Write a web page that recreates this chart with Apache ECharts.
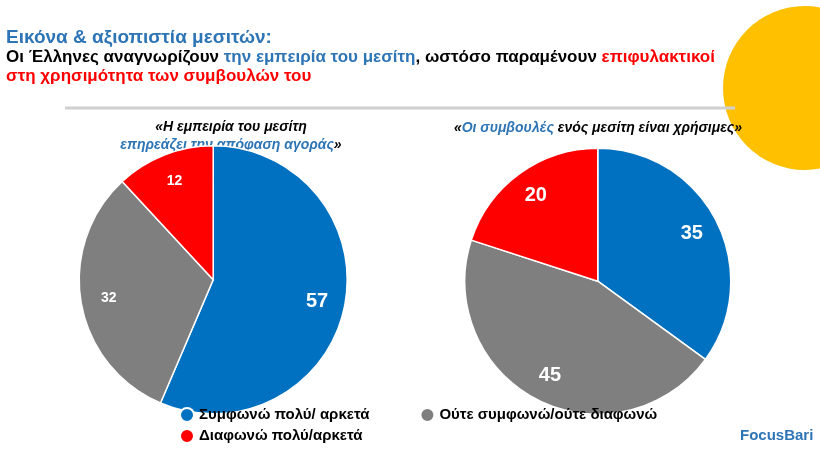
<!DOCTYPE html>
<html>
<head>
<meta charset="utf-8">
<script src="https://cdn.jsdelivr.net/npm/echarts@6/dist/echarts.min.js"></script>
<style>html,body{margin:0;padding:0;background:#fff}#main{width:820px;height:461px}</style>
</head>
<body>
<div id="main"></div>
<script>
var categories = ['Συμφωνώ πολύ/ αρκετά', 'Ούτε συμφωνώ/ούτε διαφωνώ', 'Διαφωνώ πολύ/αρκετά'];
var colors = ['#0070C0', '#7F7F7F', '#FF0000'];
var leftValues = [57, 32, 12];
var rightValues = [35, 45, 20];

function pieData(vals, sizes){
    var out = [];
    for (var i = 0; i < vals.length; i++) {
        out.push({value: vals[i], name: categories[i], itemStyle: {color: colors[i]},
            label: {fontSize: sizes[i]}});
    }
    return out;
}
function labelData(vals, sizes){
    var out = pieData(vals, sizes);
    for (var i = 0; i < out.length; i++) out[i].itemStyle = {color: 'rgba(0,0,0,0)'};
    return out;
}
var font = 'Liberation Sans';
var chart = echarts.init(document.getElementById('main'));
var lbl = {position: 'inside', formatter: '{c}', color: '#fff', fontWeight: 'bold'};
var option = {
    animation: false,
    textStyle: {fontFamily: font},
    graphic: [
        {type: 'circle', shape: {cx: 805, cy: 88, r: 82}, style: {fill: '#FFC000'}, z: 0},
        {type: 'line', shape: {x1: 65, y1: 108, x2: 735, y2: 108}, style: {stroke: '#D0D0D0', lineWidth: 3}},
        {type: 'text', left: 6, top: 28, style: {text: 'Εικόνα & αξιοπιστία μεσιτών:', fill: '#2E75B6', font: 'bold 19px ' + font}},
        {type: 'text', left: 6, top: 49, style: {
            text: '{k|Οι Έλληνες αναγνωρίζουν }{b|την εμπειρία του μεσίτη}{k|, ωστόσο παραμένουν }{r|επιφυλακτικοί}\n{r|στη χρησιμότητα των συμβουλών του}',
            rich: {
                k: {fill: '#000', font: 'bold 17px ' + font, lineHeight: 19},
                b: {fill: '#2E75B6', font: 'bold 17px ' + font, lineHeight: 19},
                r: {fill: '#FF0000', font: 'bold 17px ' + font, lineHeight: 19}
            }}},
        {type: 'text', x: 231, y: 118, style: {
            text: '{k|«Η εμπειρία του μεσίτη}\n{b|επηρεάζει την απόφαση αγοράς}{k|»}',
            align: 'center',
            rich: {
                k: {fill: '#000', font: 'italic bold 14px ' + font, lineHeight: 18},
                b: {fill: '#2E75B6', font: 'italic bold 14px ' + font, lineHeight: 18}
            }}},
        {type: 'text', x: 598, y: 121, style: {
            text: '{k|«}{b|Οι συμβουλές}{k| ενός μεσίτη είναι χρήσιμες»}',
            align: 'center',
            rich: {
                k: {fill: '#000', font: 'italic bold 14px ' + font},
                b: {fill: '#2E75B6', font: 'italic bold 14px ' + font}
            }}},
        {type: 'text', left: 740, top: 428, style: {text: 'FocusBari', fill: '#2E75B6', font: 'bold 15px ' + font}}
    ],
    legend: [
        {data: [categories[0], categories[1]], left: 174, top: 402, icon: 'circle', itemWidth: 14, itemHeight: 14, itemGap: 50,
            textStyle: {fontSize: 15, color: '#000', fontWeight: 'bold'}},
        {data: [categories[2]], left: 174, top: 423, icon: 'circle', itemWidth: 14, itemHeight: 14,
            textStyle: {fontSize: 15, color: '#000', fontWeight: 'bold'}}
    ],
    series: [
        {type: 'pie', center: ['26%', '60.7%'], radius: 134, startAngle: 90,
            itemStyle: {borderColor: '#fff', borderWidth: 1.5}, label: {show: false},
            data: pieData(leftValues, [20, 14, 14])},
        {type: 'pie', center: ['72.9%', '61%'], radius: 133, startAngle: 90,
            itemStyle: {borderColor: '#fff', borderWidth: 1.5}, label: {show: false},
            data: pieData(rightValues, [20, 20, 20])},
        {type: 'pie', center: ['26%', '60.7%'], radius: [72, 134], startAngle: 90, silent: true,
            legendHoverLink: false, label: lbl, data: labelData(leftValues, [20, 14, 14])},
        {type: 'pie', center: ['72.9%', '61%'], radius: [72, 133], startAngle: 90, silent: true,
            legendHoverLink: false, label: lbl, data: labelData(rightValues, [20, 20, 20])}
    ]
};
chart.setOption(option);
</script>
</body>
</html>
